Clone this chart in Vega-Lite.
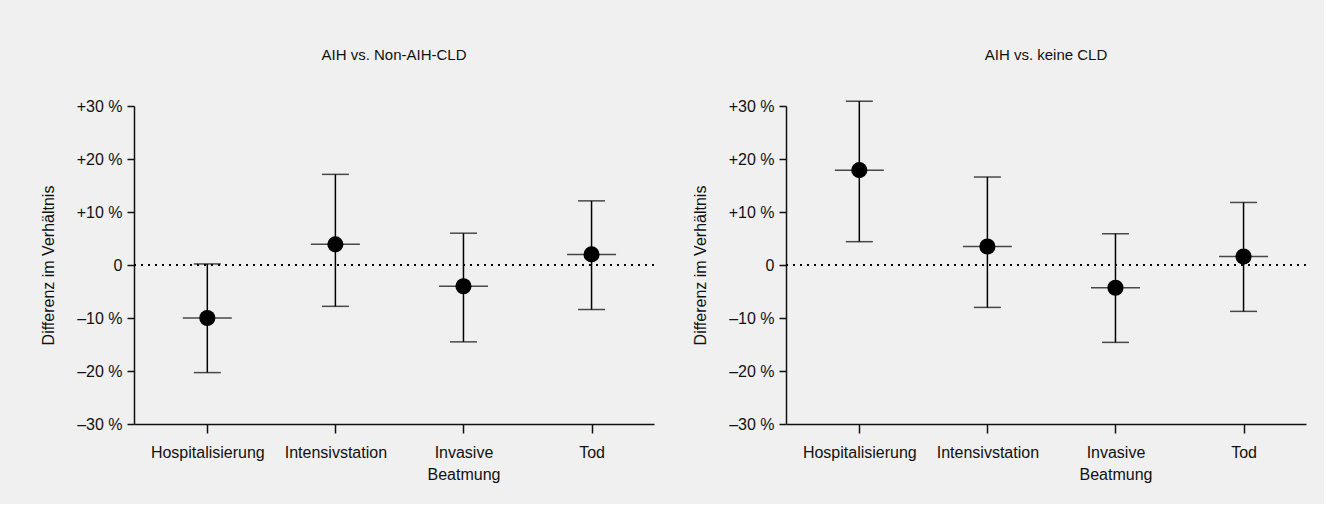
{
  "$schema": "https://vega.github.io/schema/vega-lite/v6.json",
  "background": "#f0f0f0",
  "padding": {"left": 40, "top": 48, "right": 17, "bottom": 22},
  "data": {
    "values": [
      {"panel": "A", "cat": "Hospitalisierung", "est": -10.0, "lo": -20.3, "hi": 0.2},
      {"panel": "A", "cat": "Intensivstation", "est": 3.9, "lo": -7.8, "hi": 17.1},
      {"panel": "A", "cat": "Invasive Beatmung", "est": -4.0, "lo": -14.5, "hi": 6.0},
      {"panel": "A", "cat": "Tod", "est": 2.0, "lo": -8.4, "hi": 12.1},
      {"panel": "B", "cat": "Hospitalisierung", "est": 17.9, "lo": 4.4, "hi": 30.9},
      {"panel": "B", "cat": "Intensivstation", "est": 3.5, "lo": -8.0, "hi": 16.6},
      {"panel": "B", "cat": "Invasive Beatmung", "est": -4.3, "lo": -14.6, "hi": 5.9},
      {"panel": "B", "cat": "Tod", "est": 1.6, "lo": -8.75, "hi": 11.8}
    ]
  },
  "spacing": 132,
  "bounds": "flush",
  "hconcat": [
    {
      "width": 520,
      "height": 318,
      "title": {"text": "AIH vs. Non-AIH-CLD", "frame": "group"},
      "transform": [{"filter": "datum.panel == 'A'"}],
      "encoding": {
        "x": {"field": "cat", "type": "nominal", "sort": null,
              "scale": {"type": "point", "padding": 0.53, "align": 0.54}, "title": null},
        "y": {"type": "quantitative"}
      },
      "layer": [
        {"mark": {"type": "rule", "strokeDash": [2, 5], "strokeWidth": 2, "color": "black"},
         "encoding": {"x": null, "y": {"datum": 0, "type": "quantitative"}}},
        {"mark": {"type": "rule", "color": "black", "strokeWidth": 1.5},
         "encoding": {"y": {"field": "lo", "type": "quantitative"}, "y2": {"field": "hi"}}},
        {"mark": {"type": "tick", "color": "black", "size": 27, "thickness": 1.5},
         "encoding": {"y": {"field": "lo", "type": "quantitative"}}},
        {"mark": {"type": "tick", "color": "black", "size": 27, "thickness": 1.5},
         "encoding": {"y": {"field": "hi", "type": "quantitative"}}},
        {"mark": {"type": "tick", "color": "black", "size": 49, "thickness": 1.5},
         "encoding": {"y": {"field": "est", "type": "quantitative"}}},
        {"mark": {"type": "point", "filled": true, "color": "black", "opacity": 1, "size": 260},
         "encoding": {"y": {"field": "est", "type": "quantitative",
           "scale": {"domain": [-30, 30], "nice": false, "zero": false},
           "axis": {"values": [-30, -20, -10, 0, 10, 20, 30]},
           "title": "Differenz im Verhältnis"}}}
      ]
    },
    {
      "width": 520,
      "height": 318,
      "title": {"text": "AIH vs. keine CLD", "frame": "group"},
      "transform": [{"filter": "datum.panel == 'B'"}],
      "encoding": {
        "x": {"field": "cat", "type": "nominal", "sort": null,
              "scale": {"type": "point", "padding": 0.53, "align": 0.54}, "title": null},
        "y": {"type": "quantitative"}
      },
      "layer": [
        {"mark": {"type": "rule", "strokeDash": [2, 5], "strokeWidth": 2, "color": "black"},
         "encoding": {"x": null, "y": {"datum": 0, "type": "quantitative"}}},
        {"mark": {"type": "rule", "color": "black", "strokeWidth": 1.5},
         "encoding": {"y": {"field": "lo", "type": "quantitative"}, "y2": {"field": "hi"}}},
        {"mark": {"type": "tick", "color": "black", "size": 27, "thickness": 1.5},
         "encoding": {"y": {"field": "lo", "type": "quantitative"}}},
        {"mark": {"type": "tick", "color": "black", "size": 27, "thickness": 1.5},
         "encoding": {"y": {"field": "hi", "type": "quantitative"}}},
        {"mark": {"type": "tick", "color": "black", "size": 49, "thickness": 1.5},
         "encoding": {"y": {"field": "est", "type": "quantitative"}}},
        {"mark": {"type": "point", "filled": true, "color": "black", "opacity": 1, "size": 260},
         "encoding": {"y": {"field": "est", "type": "quantitative",
           "scale": {"domain": [-30, 30], "nice": false, "zero": false},
           "axis": {"values": [-30, -20, -10, 0, 10, 20, 30]},
           "title": "Differenz im Verhältnis"}}}
      ]
    }
  ],
  "config": {
    "font": "Liberation Sans",
    "view": {"stroke": null},
    "title": {"fontSize": 15, "fontWeight": "normal", "color": "#111", "offset": 35, "anchor": "middle"},
    "axis": {
      "grid": false,
      "domainColor": "#111",
      "domainWidth": 1.5,
      "tickColor": "#111",
      "tickWidth": 1.5,
      "labelColor": "#111",
      "labelFontSize": 16,
      "titleFontSize": 16,
      "titleFontWeight": "normal",
      "titleColor": "#111",
      "labelFont": "Liberation Sans",
      "titleFont": "Liberation Sans"
    },
    "axisY": {
      "tickSize": 7,
      "labelPadding": 5,
      "titlePadding": 20,
      "labelExpr": "datum.value > 0 ? '+' + datum.value + ' %' : (datum.value < 0 ? '–' + abs(datum.value) + ' %' : '0')"
    },
    "axisX": {
      "tickSize": 9,
      "labelPadding": 11,
      "labelAngle": 0,
      "labelLineHeight": 22,
      "labelBaseline": "top",
      "labelExpr": "datum.label == 'Invasive Beatmung' ? ['Invasive', 'Beatmung'] : datum.label"
    }
  }
}
